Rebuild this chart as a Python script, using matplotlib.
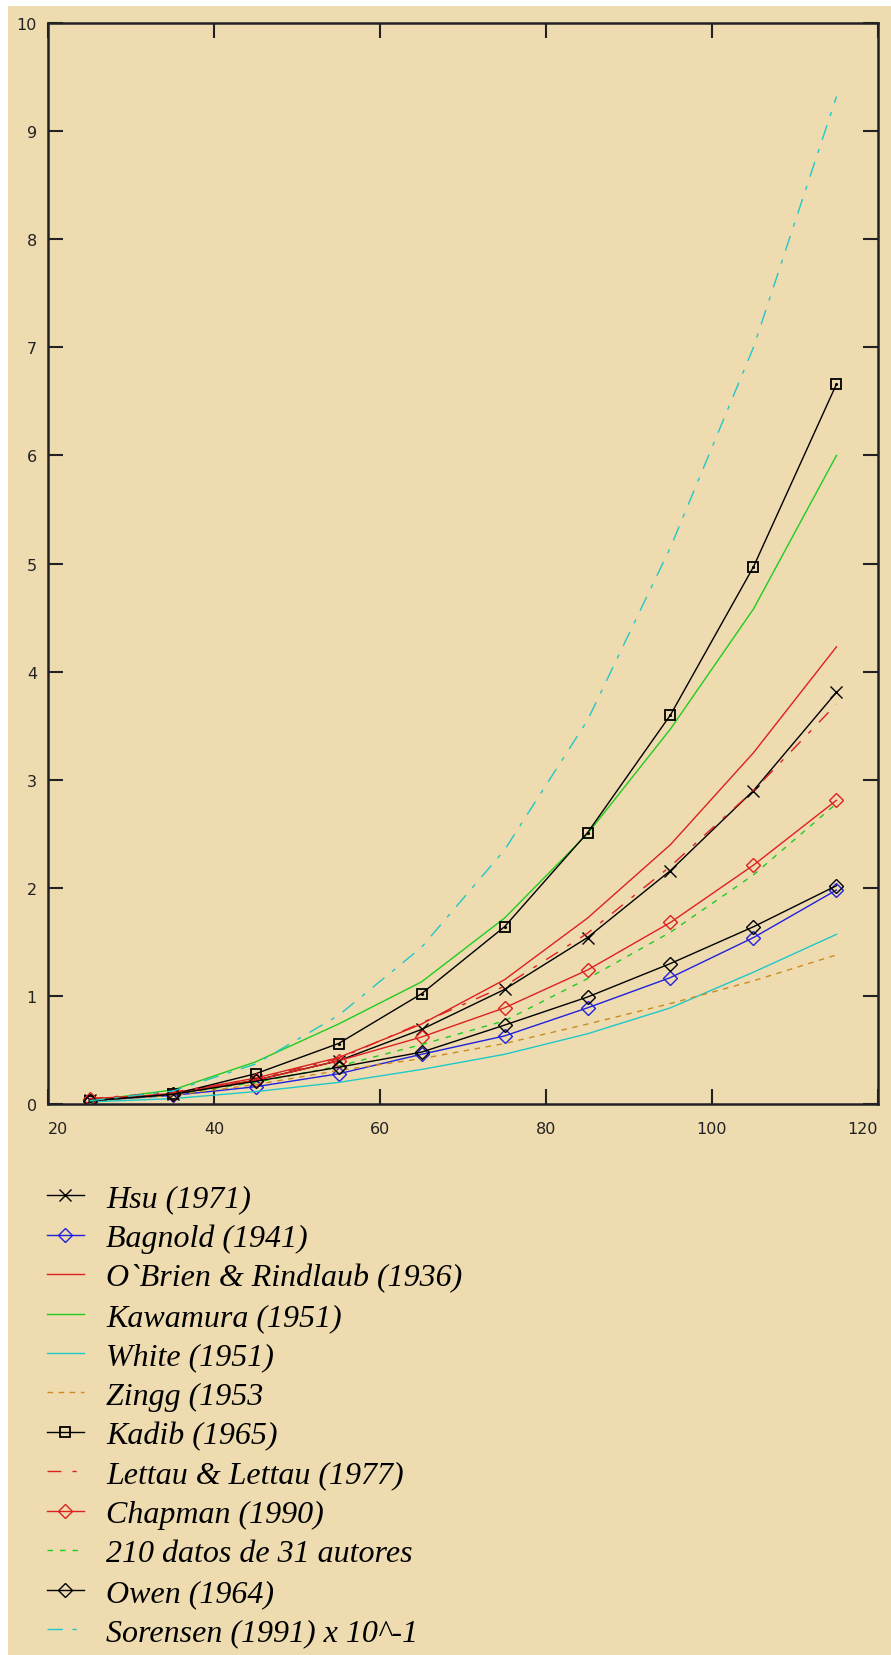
import matplotlib
matplotlib.use('Agg')
import matplotlib.pyplot as plt
from matplotlib.patches import Rectangle

x = [25, 35, 45, 55, 65, 75, 85, 95, 105, 115]

hsu = [0.04, 0.09, 0.22, 0.40, 0.69, 1.06, 1.54, 2.16, 2.90, 3.81]
bagnold = [0.03, 0.08, 0.16, 0.28, 0.46, 0.63, 0.89, 1.17, 1.54, 1.98]
obrien = [0.03, 0.10, 0.24, 0.43, 0.74, 1.15, 1.72, 2.40, 3.25, 4.23]
kawamura = [0.03, 0.13, 0.39, 0.74, 1.13, 1.72, 2.50, 3.47, 4.58, 6.00]
white = [0.02, 0.05, 0.115, 0.20, 0.32, 0.46, 0.65, 0.89, 1.22, 1.57]
zingg = [0.03, 0.08, 0.18, 0.31, 0.42, 0.56, 0.74, 0.93, 1.14, 1.38]
kadib = [0.03, 0.09, 0.28, 0.56, 1.02, 1.64, 2.51, 3.60, 4.97, 6.66]
lettau = [0.05, 0.11, 0.23, 0.42, 0.75, 1.09, 1.58, 2.20, 2.90, 3.70]
chapman = [0.05, 0.09, 0.22, 0.40, 0.62, 0.89, 1.24, 1.68, 2.21, 2.81]
datos = [0.03, 0.09, 0.20, 0.35, 0.55, 0.77, 1.16, 1.59, 2.12, 2.78]
owen = [0.03, 0.09, 0.21, 0.34, 0.48, 0.73, 0.99, 1.30, 1.64, 2.02]
sorensen = [0.03, 0.12, 0.37, 0.82, 1.45, 2.35, 3.55, 5.15, 7.00, 9.32]

labels = ['Hsu (1971)', 'Bagnold (1941)', 'O`Brien & Rindlaub (1936)',
          'Kawamura (1951)', 'White (1951)', 'Zingg (1953',
          'Kadib (1965)', 'Lettau & Lettau (1977)', 'Chapman (1990)',
          '210 datos de 31 autores', 'Owen (1964)',
          'Sorensen (1991) x 10^-1']

bg = '#eedcb0'
red = '#dd2020'
green = '#20cc20'
cyan = '#20c8c8'
blue = '#2020dd'
orange = '#cc8a20'

fig = plt.figure(figsize=(8.91, 16.56), dpi=100, facecolor=bg)
# thin white strips at the top and left edges of the original screenshot
fig.add_artist(Rectangle((0, 0.9958), 1, 0.01, transform=fig.transFigure,
                         facecolor='white', edgecolor='none'))
fig.add_artist(Rectangle((0, 0), 0.009, 1, transform=fig.transFigure,
                         facecolor='white', edgecolor='none'))
ax = fig.add_axes([0.0539, 0.3327, 0.9315, 0.6528])
ax.set_facecolor(bg)

lw = 1.0
ax.plot(x, hsu, color='black', lw=lw, marker='x', ms=8, mew=1.0, label=labels[0])
ax.plot(x, bagnold, color=blue, lw=lw, marker='D', ms=7, mfc='none', mew=1.0, label=labels[1])
ax.plot(x, obrien, color=red, lw=lw, label=labels[2])
ax.plot(x, kawamura, color=green, lw=lw, label=labels[3])
ax.plot(x, white, color=cyan, lw=lw, label=labels[4])
ax.plot(x, zingg, color=orange, lw=lw, ls=(0, (4, 4)), label=labels[5])
ax.plot(x, kadib, color='black', lw=lw, marker='s', ms=6.5, mfc='none', mew=1.3, label=labels[6])
ax.plot(x, kadib, ls='none', marker='.', ms=2.5, color='black', label='_nolegend_')
ax.plot(x, lettau, color=red, lw=lw, ls=(0, (10, 8, 3, 8)), label=labels[7])
ax.plot(x, chapman, color=red, lw=lw, marker='D', ms=7, mfc='none', mew=1.0, label=labels[8])
ax.plot(x, datos, color=green, lw=lw, ls=(0, (4, 5)), label=labels[9])
ax.plot(x, owen, color='black', lw=lw, marker='D', ms=7, mfc='none', mew=1.0, label=labels[10])
ax.plot(x, sorensen, color=cyan, lw=lw, ls=(0, (11, 7, 3, 7)), label=labels[11])

ax.set_xlim(20, 120)
ax.set_ylim(0, 10)
ax.set_xticks([20, 40, 60, 80, 100, 120])
ax.set_yticks(range(0, 11))
for s in ax.spines.values():
    s.set_linewidth(1.8)
    s.set_color('#222222')
ax.tick_params(direction='in', length=11, width=1.5, color='#222222',
               top=True, right=True, labelsize=11.5, labelcolor='#222222')
ax.tick_params(axis='x', pad=12)
ax.tick_params(axis='y', pad=8)
xl = ax.get_xticklabels()
xl[0].set_ha('left')
xl[-1].set_ha('right')

leg = ax.legend(loc='upper left', bbox_to_anchor=(0.0527, 0.2845),
                bbox_transform=fig.transFigure, frameon=False,
                prop={'family': 'Liberation Serif', 'style': 'italic', 'size': 23},
                handlelength=1.16, handletextpad=0.69, labelspacing=0.316,
                numpoints=1, borderpad=0, borderaxespad=0)

fig.savefig('out.png', dpi=100, facecolor=bg)
